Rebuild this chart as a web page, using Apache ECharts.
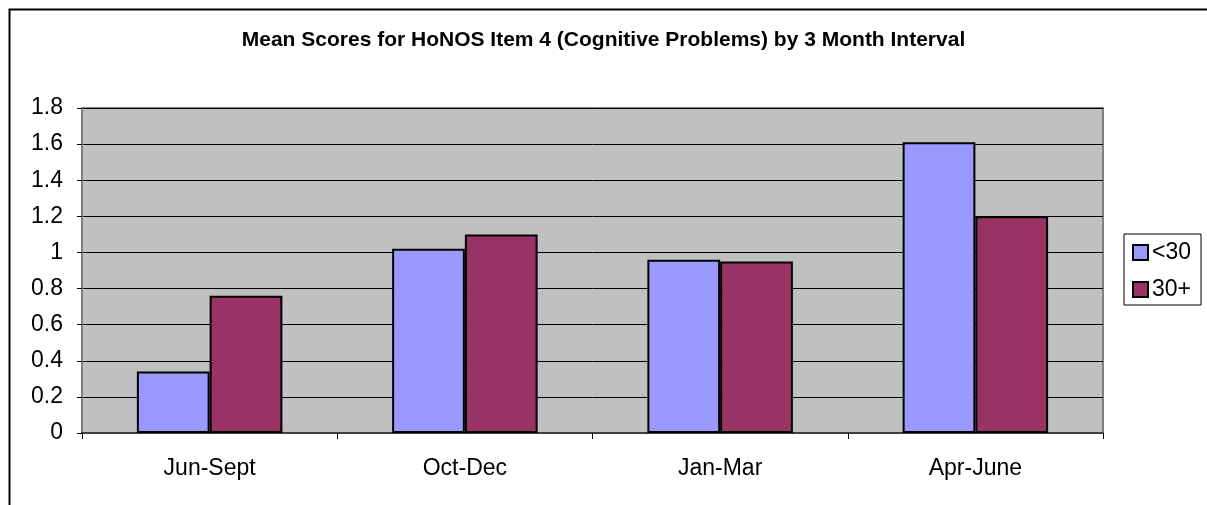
<!DOCTYPE html>
<html><head><meta charset="utf-8">
<script src="https://cdn.jsdelivr.net/npm/echarts@6/dist/echarts.min.js"></script>
<style>html,body{margin:0;padding:0;background:#fff}#c{width:1207px;height:505px}</style>
</head><body><div id="c"></div>
<script>
const categories = ['Jun-Sept', 'Oct-Dec', 'Jan-Mar', 'Apr-June'];
const under30 = [0.34, 1.02, 0.96, 1.61];
const over30 = [0.76, 1.10, 0.95, 1.20];
const seriesNames = ['<30', '30+'];
const titleText = 'Mean Scores for HoNOS Item 4 (Cognitive Problems) by 3 Month Interval';

const font = '"Liberation Sans", Arial, sans-serif';
const chart = echarts.init(document.getElementById('c'), null, {renderer: 'canvas'});
chart.setOption({
  animation: false,
  backgroundColor: '#fff',
  title: {
    text: titleText, left: 'center', top: 25,
    textStyle: {fontFamily: font, fontSize: 21, fontWeight: 'bold', color: '#000'}
  },
  graphic: [{
    type: 'rect', left: 7, top: 7, silent: true,
    shape: {width: 1300, height: 700},
    style: {fill: 'none', stroke: '#000', lineWidth: 2}
  }],
  legend: {
    orient: 'vertical', left: 1124, top: 234,
    backgroundColor: '#fff', borderColor: '#000', borderWidth: 1,
    padding: [7, 10, 4, 8], itemGap: 14, itemWidth: 15, itemHeight: 15,
    icon: 'rect',
    textStyle: {fontFamily: font, fontSize: 23, color: '#000', padding: [0, 0, 0, -1]},
    data: seriesNames.map(n => ({name: n, itemStyle: {borderColor: '#000', borderWidth: 2}}))
  },
  grid: {
    left: 82, right: 104, top: 108, bottom: 72, containLabel: false,
    show: true, backgroundColor: '#C0C0C0', borderColor: '#808080', borderWidth: 2
  },
  xAxis: {
    type: 'category', data: categories,
    axisLine: {lineStyle: {color: '#404040', width: 2}},
    axisTick: {show: true, length: 6, lineStyle: {color: '#000'}},
    axisLabel: {fontFamily: font, fontSize: 23, color: '#000', margin: 24}
  },
  yAxis: {
    type: 'value', min: 0, max: 1.8, interval: 0.2,
    axisLine: {show: true, lineStyle: {color: '#808080', width: 2}},
    axisTick: {show: true, length: 5, lineStyle: {color: '#000'}},
    axisLabel: {fontFamily: font, fontSize: 23, color: '#000', margin: 19,
      formatter: v => String(Math.round(v * 10) / 10)},
    splitLine: {lineStyle: {color: '#000', width: 1}}
  },
  series: [
    {name: seriesNames[0], type: 'bar', data: under30, barGap: '0%', barCategoryGap: '43%',
     itemStyle: {color: '#9999FF', borderColor: '#000', borderWidth: 2}},
    {name: seriesNames[1], type: 'bar', data: over30, barGap: '0%', barCategoryGap: '43%',
     itemStyle: {color: '#993366', borderColor: '#000', borderWidth: 2}}
  ]
});
</script></body></html>
